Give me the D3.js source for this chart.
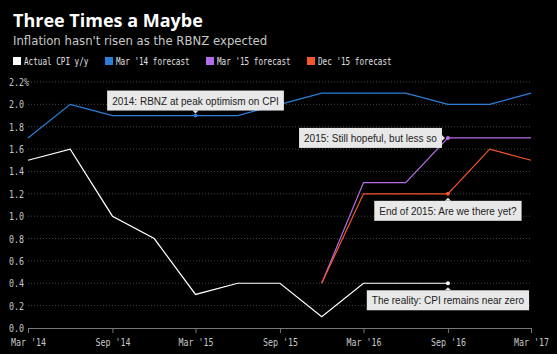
<!DOCTYPE html>
<html lang="en">
<head>
  <meta charset="UTF-8">
  <title>Three Times a Maybe</title>
  <script src="https://d3js.org/d3.v7.min.js"></script>
  <style>
    body { margin: 0; background: #000; }
    svg { display: block; }
    .title { font-family: "Open Sans", "DejaVu Sans", sans-serif; font-weight: bold; font-size: 18px; fill: #fff; }
    .subtitle { font-family: "DejaVu Sans", sans-serif; font-size: 11.7px; fill: #c8c8c8; }
    .legend text { font-family: "DejaVu Sans Mono", monospace; font-size: 10px; fill: #e0e0e0; }
    .axis text { font-family: "DejaVu Sans Mono", monospace; font-size: 10px; fill: #c8c8c8; }
    .note text { font-family: "Liberation Sans", Arial, sans-serif; font-size: 10px; fill: #222; }
  </style>
</head>
<body>
  <svg width="557" height="354"></svg>
  <script>
    // quarters, Mar '14 .. Mar '17
    const quarters = ["2014-03","2014-06","2014-09","2014-12","2015-03","2015-06","2015-09",
                      "2015-12","2016-03","2016-06","2016-09","2016-12","2017-03"];
    const actualCPI   = [1.5, 1.6, 1.0, 0.8, 0.3, 0.4, 0.4, 0.1, 0.4, 0.4, 0.4, null, null];
    const mar14Fcst   = [1.7, 2.0, 1.9, 1.9, 1.9, 1.9, 2.0, 2.1, 2.1, 2.1, 2.0, 2.0, 2.1];
    const mar15Fcst   = [null, null, null, null, null, null, null, 0.4, 1.3, 1.3, 1.7, 1.7, 1.7];
    const dec15Fcst   = [null, null, null, null, null, null, null, 0.4, 1.2, 1.2, 1.2, 1.6, 1.5];
    const yTicks = [0, 0.2, 0.4, 0.6, 0.8, 1.0, 1.2, 1.4, 1.6, 1.8, 2.0, 2.2];
    const xTickLabels = ["2014-03","2014-09","2015-03","2015-09","2016-03","2016-09","2017-03"];

    const series = [
      { name: "Actual CPI y/y",   values: actualCPI, color: "#ffffff" },
      { name: "Mar '14 forecast", values: mar14Fcst, color: "#2b7fd9" },
      { name: "Mar '15 forecast", values: mar15Fcst, color: "#b56ce6" },
      { name: "Dec '15 forecast", values: dec15Fcst, color: "#f4572a" }
    ];

    // annotations: series index, quarter, text, box position relative to point
    const notes = [
      { s: 1, q: "2015-03", text: "2014: RBNZ at peak optimism on CPI", side: "above" },
      { s: 2, q: "2016-09", text: "2015: Still hopeful, but less so", side: "left" },
      { s: 3, q: "2016-09", text: "End of 2015: Are we there yet?", side: "below" },
      { s: 0, q: "2016-09", text: "The reality: CPI remains near zero", side: "below" }
    ];

    const parse = d3.timeParse("%Y-%m");
    const dates = quarters.map(parse);

    const svg = d3.select("svg");
    const plotLeft = 28, plotRight = 531, plotTop = 82, plotBottom = 328;

    const x = d3.scaleTime().domain([dates[0], dates[dates.length - 1]]).range([plotLeft, plotRight]);
    const y = d3.scaleLinear().domain([0, 2.2]).range([plotBottom, plotTop]);

    // narrow mono look of the original
    const squeeze = (sel, per) => sel
      .attr("textLength", function() { return this.textContent.length * per; })
      .attr("lengthAdjust", "spacingAndGlyphs");

    svg.append("text").attr("class", "title").attr("x", 13).attr("y", 27).text("Three Times a Maybe");
    svg.append("text").attr("class", "subtitle").attr("x", 13).attr("y", 45)
      .text("Inflation hasn't risen as the RBNZ expected");

    // legend
    const legendX = [13, 105, 206, 307];
    const lg = svg.append("g").attr("class", "legend");
    series.forEach((s, i) => {
      lg.append("rect").attr("x", legendX[i]).attr("y", 57).attr("width", 8).attr("height", 8).attr("fill", s.color);
      lg.append("text").attr("x", legendX[i] + 11).attr("y", 65).text(s.name).call(squeeze, 4.6);
    });

    // gridlines
    svg.append("g").selectAll("line")
      .data(yTicks.slice(1))
      .join("line")
      .attr("x1", plotLeft).attr("x2", plotRight)
      .attr("y1", d => y(d)).attr("y2", d => y(d))
      .attr("stroke", "#444").attr("stroke-dasharray", "1,2");

    // y labels
    const yAxis = svg.append("g").attr("class", "axis");
    yAxis.selectAll("text")
      .data(yTicks)
      .join("text")
      .attr("x", 9).attr("y", d => y(d) + 4)
      .text(d => d3.format(".1f")(d) + (d === 2.2 ? "%" : ""))
      .call(squeeze, 5);

    // x axis
    const xAxis = d3.axisBottom(x)
      .tickValues(xTickLabels.map(parse))
      .tickSize(5)
      .tickFormat(d => d3.timeFormat("%b '%y")(d));
    const gX = svg.append("g").attr("class", "axis").attr("transform", `translate(0,${plotBottom})`).call(xAxis);
    gX.select(".domain").attr("stroke", "#777").attr("stroke-width", 1);
    gX.selectAll(".tick line").attr("stroke", "#777");
    gX.selectAll(".tick text").attr("dy", "0.95em").call(squeeze, 5);

    // lines
    const line = d3.line()
      .defined(d => d.v != null)
      .x(d => x(d.date))
      .y(d => y(d.v));

    series.forEach(s => {
      const pts = s.values.map((v, i) => ({ date: dates[i], v }));
      svg.append("path")
        .datum(pts)
        .attr("fill", "none")
        .attr("stroke", s.color)
        .attr("stroke-width", 1.2)
        .attr("d", line);
    });

    // annotations
    const ng = svg.append("g").attr("class", "note");
    notes.forEach(n => {
      const s = series[n.s];
      const i = quarters.indexOf(n.q);
      const px = x(dates[i]), py = y(s.values[i]);
      const g = ng.append("g");
      const box = g.append("rect").attr("fill", "#e8e8e8");
      const t = g.append("text").text(n.text);
      const w = t.node().getComputedTextLength() + 10, h = 20;
      let bx, by, tri;
      if (n.side === "above") {
        bx = px - w / 2; by = py - 5 - h;
        tri = [[px - 3, by + h], [px + 3, by + h], [px, by + h + 3]];
      } else if (n.side === "below") {
        bx = px - w / 2; by = py + 7;
        tri = [[px - 3, by], [px + 3, by], [px, by - 3]];
      } else {
        bx = px - 6 - w; by = py - h / 2;
        tri = [[bx + w, py - 3], [bx + w, py + 3], [bx + w + 3, py]];
      }
      box.attr("x", bx).attr("y", by).attr("width", w).attr("height", h);
      g.append("path").attr("d", d3.line()(tri) + "Z").attr("fill", "#e8e8e8");
      t.attr("x", bx + 5).attr("y", by + 14);
      g.append("circle").attr("cx", px).attr("cy", py).attr("r", 2).attr("fill", s.color);
    });
  </script>
</body>
</html>
